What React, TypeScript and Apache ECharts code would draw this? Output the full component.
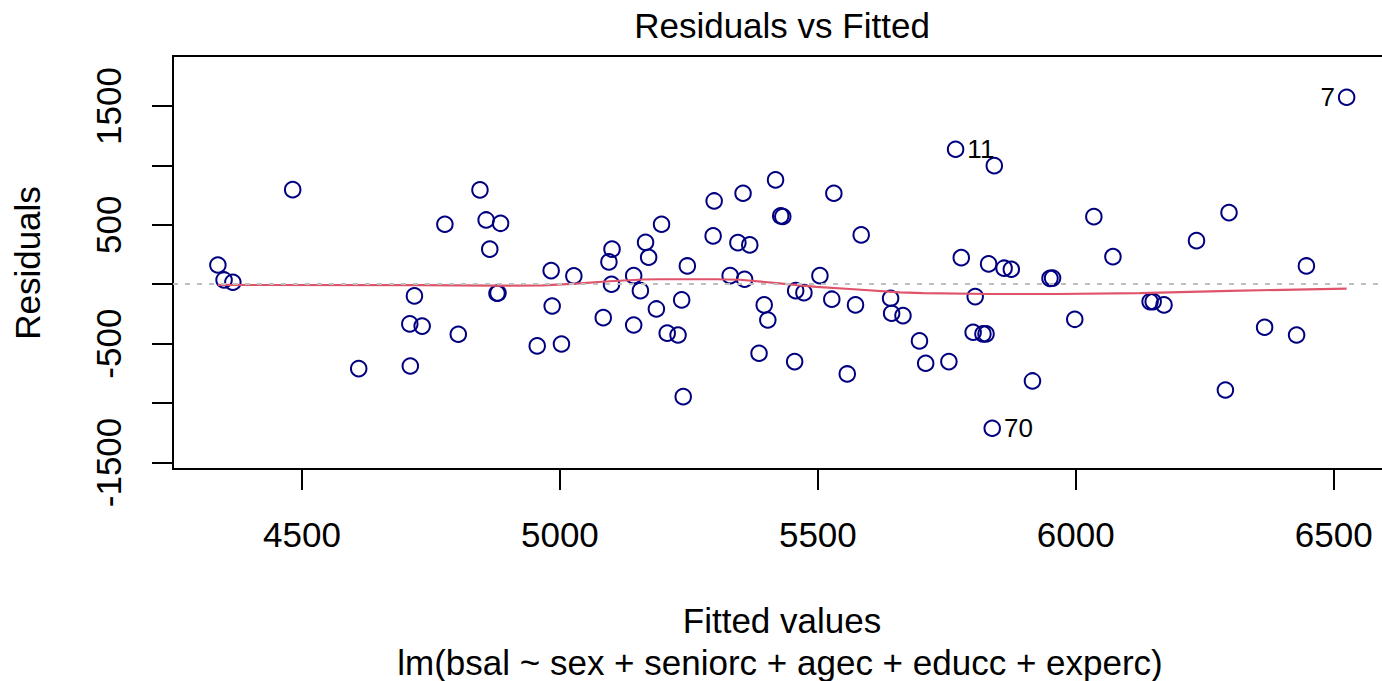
import React, { useEffect, useRef } from "react";
import * as echarts from "echarts";

// Fitted values (x) and residuals (y)
const fitted = [
  4337, 4349, 4366, 4482, 4610, 4709, 4710, 4718, 4733, 4777,
  4803, 4845, 4857, 4864, 4878, 4880, 4885, 4956, 4983, 4985,
  5003, 5027, 5084, 5095, 5100, 5101, 5143, 5143, 5156, 5166,
  5172, 5187, 5197, 5208, 5229, 5236, 5239, 5247, 5297, 5299,
  5330, 5345, 5355, 5358, 5368, 5386, 5396, 5403, 5418, 5428,
  5432, 5455, 5457, 5473, 5504, 5527, 5531, 5557, 5573, 5584,
  5641, 5643, 5665, 5697, 5709, 5754, 5767, 5778, 5801, 5805,
  5820, 5826, 5831, 5838, 5842, 5861, 5875, 5916, 5950, 5955,
  5998, 6035, 6072, 6144, 6150, 6171, 6234, 6290, 6297, 6366,
  6428, 6447, 6525,
];
const residuals = [
  162, 36, 17, 796, -710, -334, -688, -98, -352, 505,
  -421, 794, 541, 295, -76, -74, 513, -519, 115, -183,
  -503, 70, -281, 188, 0, 295, 72, -343, -54, 353,
  227, -208, 505, -412, -427, -132, -946, 154, 407, 701,
  72, 350, 766, 42, 331, -581, -174, -301, 878, 575,
  570, -651, -54, -71, 72, -126, 766, -755, -174, 415,
  -118, -244, -264, -477, -665, -651, 1136, 224, -404, -104,
  -418, -418, 171, -1212, 998, 135, 126, -814, 50, 52,
  -295, 569, 232, -146, -146, -174, 367, -890, 603, -362,
  -427, 154, 1574,
];

// Identified observations (index into the arrays above)
const idIndex = [66, 73, 92];
const idText = ["11", "70", "7"];
const idSide = ["right", "right", "left"];

// Smoother (red line)
const smoothX = [4337, 4728, 4877, 4967, 5032, 5096, 5161, 5193, 5239, 5303, 5349, 5420, 5497, 5562, 5659, 5704, 5833, 5963, 6124, 6299, 6525];
const smoothY = [-6, -7, -12, -10, 5, 25, 40, 42, 42, 42, 38, 10, -22, -40, -68, -75, -82, -82, -75, -55, -37];

const xTicks = [4500, 5000, 5500, 6000, 6500];
const yTicks = [-1500, -1000, -500, 0, 500, 1000, 1500];
const yLabels = [-1500, -500, 500, 1500];

const FONT = "'Liberation Sans', Arial, Helvetica, sans-serif";

export default function App() {
  const ref = useRef<HTMLDivElement>(null);
  useEffect(() => {
    if (!ref.current) return;
    const chart = echarts.init(ref.current, undefined, { renderer: "svg" });
    const points = fitted.map((x, i) => {
      const k = idIndex.indexOf(i);
      if (k < 0) return [x, residuals[i]];
      return {
        value: [x, residuals[i]],
        label: {
          show: true,
          formatter: idText[k],
          position: idSide[k],
          distance: 3,
          fontSize: 26,
          color: "#000",
          fontFamily: FONT,
        },
      };
    });
    chart.setOption({
      animation: false,
      backgroundColor: "#fff",
      grid: {
        left: 173,
        top: 56,
        right: 9,
        bottom: 212,
        show: true,
        borderColor: "#000",
        borderWidth: 2,
        backgroundColor: "transparent",
      },
      xAxis: {
        type: "value",
        min: 4250,
        max: 6611,
        axisLine: { show: false, onZero: false },
        splitLine: { show: false },
        axisTick: {
          show: true,
          customValues: xTicks,
          length: 21,
          lineStyle: { color: "#000", width: 2 },
        },
        axisLabel: {
          customValues: xTicks,
          formatter: (v: number) => String(v),
          fontSize: 35,
          color: "#000",
          fontFamily: FONT,
          margin: 48,
        },
      },
      yAxis: {
        type: "value",
        min: -1555,
        max: 1921,
        axisLine: { show: false, onZero: false },
        splitLine: { show: false },
        axisTick: {
          show: true,
          customValues: yTicks,
          length: 21,
          lineStyle: { color: "#000", width: 2 },
        },
        axisLabel: {
          customValues: yLabels,
          formatter: (v: number) => String(v),
          rotate: 90,
          fontSize: 35,
          color: "#000",
          fontFamily: FONT,
          margin: 47,
        },
      },
      series: [
        {
          type: "scatter",
          data: points,
          symbol: "circle",
          symbolSize: 15.5,
          itemStyle: { color: "rgba(0,0,0,0)", borderColor: "#000080", borderWidth: 2, opacity: 1 },
          z: 2,
        },
        {
          type: "line",
          data: smoothX.map((x, i) => [x, smoothY[i]]),
          symbol: "none",
          lineStyle: { color: "#DF536B", width: 2.2 },
          z: 3,
        },
        {
          type: "line",
          data: [],
          z: 4,
          markLine: {
            silent: true,
            symbol: ["none", "none"],
            label: { show: false },
            lineStyle: { color: "#BEBEBE", width: 2, type: [5, 7] },
            data: [{ yAxis: 0 }],
          },
        },
      ],
      graphic: [
        {
          type: "text",
          x: 782,
          y: 25,
          style: { text: "Residuals vs Fitted", fontSize: 35, fontFamily: FONT, fill: "#000", textAlign: "center", textVerticalAlign: "middle" },
        },
        {
          type: "text",
          x: 782,
          y: 620,
          style: { text: "Fitted values", fontSize: 35, fontFamily: FONT, fill: "#000", textAlign: "center", textVerticalAlign: "middle" },
        },
        {
          type: "text",
          x: 780,
          y: 662,
          style: { text: "lm(bsal ~ sex + seniorc + agec + educc + experc)", fontSize: 35, fontFamily: FONT, fill: "#000", textAlign: "center", textVerticalAlign: "middle" },
        },
        {
          type: "text",
          x: 27,
          y: 263,
          rotation: Math.PI / 2,
          style: { text: "Residuals", fontSize: 35, fontFamily: FONT, fill: "#000", textAlign: "center", textVerticalAlign: "middle" },
        },
      ],
    });
    return () => chart.dispose();
  }, []);
  return (
    <div style={{ position: "fixed", left: 0, top: 0, width: 1382, height: 681, overflow: "hidden", background: "#fff" }}>
      <div ref={ref} style={{ width: 1400, height: 681 }} />
    </div>
  );
}
